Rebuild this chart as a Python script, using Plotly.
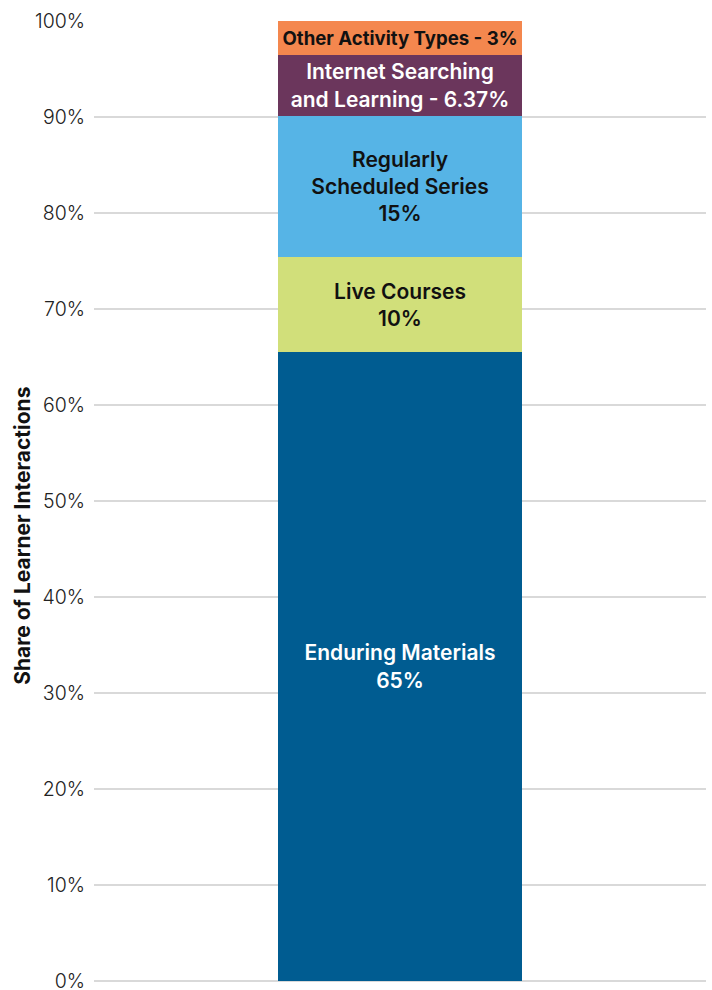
import plotly.graph_objects as go

category = ["All Activities"]
series_names = ["Enduring Materials", "Live Courses", "Regularly Scheduled Series",
                "Internet Searching and Learning", "Other Activity Types"]
series_values = [65.5, 9.9, 14.7, 6.37, 3.53]
series_labels = ["Enduring Materials<br>65%", "Live Courses<br>10%",
                 "Regularly<br>Scheduled Series<br>15%",
                 "Internet Searching<br>and Learning - 6.37%",
                 "Other Activity Types - 3%"]
series_colors = ["#005C91", "#D1DF7A", "#56B4E6", "#6B365C", "#F4874E"]
text_colors = ["#FFFFFF", "#111111", "#111111", "#FFFFFF", "#111111"]
text_sizes = [21, 21, 21, 21, 18.6]
text_weights = [600, 600, 600, 600, 700]
y_ticks = [0, 10, 20, 30, 40, 50, 60, 70, 80, 90, 100]
y_tick_labels = ["0%", "10%", "20%", "30%", "40%", "50%", "60%", "70%", "80%", "90%", "100%"]

fig = go.Figure()
for name, val, lab, col, tcol, tsz, twt in zip(series_names, series_values, series_labels,
                                               series_colors, text_colors, text_sizes,
                                               text_weights):
    fig.add_trace(go.Bar(
        x=category, y=[val], name=name, text=[lab],
        textposition="inside", insidetextanchor="middle",
        textfont=dict(family="Inter", size=tsz, color=tcol, weight=twt),
        marker=dict(color=col, line=dict(width=0)),
        hoverinfo="name+y",
    ))

fig.update_layout(
    barmode="stack", bargap=0.6, showlegend=False,
    width=712, height=990,
    margin=dict(l=94, r=6, t=21, b=9, autoexpand=False),
    plot_bgcolor="white", paper_bgcolor="white",
    xaxis=dict(showticklabels=False, showgrid=False, zeroline=False, showline=False,
               automargin=False),
    yaxis=dict(range=[0, 100], tickmode="array", tickvals=y_ticks, ticktext=y_tick_labels,
               showgrid=True, gridcolor="#D9D9D9", gridwidth=2,
               zeroline=True, zerolinecolor="#D9D9D9", zerolinewidth=2,
               showline=False, ticks="", ticklabelstandoff=8,
               ticklabeloverflow="allow", automargin=False,
               tickfont=dict(family="Inter", size=19.5, color="#222222", weight=300)),
    annotations=[dict(text="Share of Learner Interactions", xref="paper", yref="paper",
                      x=-0.118, y=0.4635, textangle=-90, showarrow=False,
                      xanchor="center", yanchor="middle",
                      font=dict(family="Inter", size=21, color="#111111", weight=700))],
)

fig.write_html("out.html", config={"displayModeBar": False})

with open("out.html", "r", encoding="utf-8") as f:
    html = f.read()
html = html.replace("<body>", '<body style="margin:0;padding:0;overflow:hidden">', 1)
with open("out.html", "w", encoding="utf-8") as f:
    f.write(html)
